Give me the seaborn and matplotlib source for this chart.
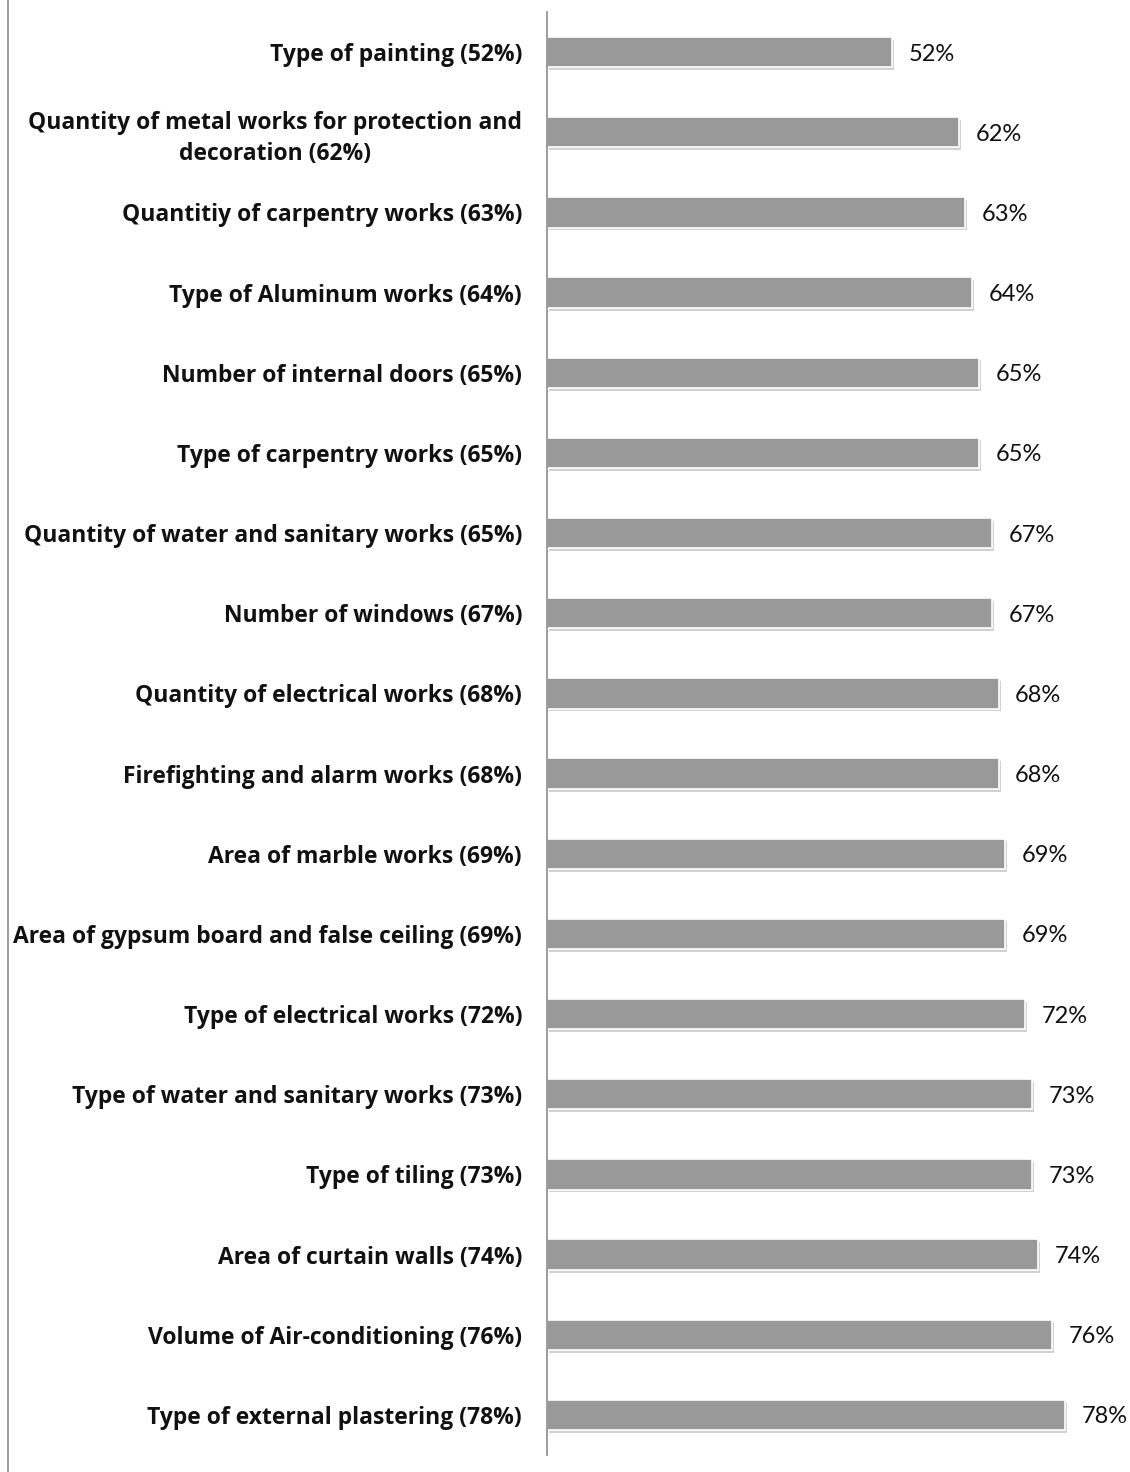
import matplotlib
matplotlib.use("Agg")
import matplotlib.pyplot as plt
import matplotlib.patheffects as pe
from matplotlib.lines import Line2D
import seaborn as sns
import pandas as pd

# Work items and their shares
items = [
    "Type of painting (52%)",
    "Quantity of metal works for protection and\ndecoration (62%)",
    "Quantitiy of carpentry works (63%)",
    "Type of Aluminum works (64%)",
    "Number of internal doors (65%)",
    "Type of carpentry works (65%)",
    "Quantity of water and sanitary works (65%)",
    "Number of windows (67%)",
    "Quantity of electrical works (68%)",
    "Firefighting and alarm works (68%)",
    "Area of marble works (69%)",
    "Area of gypsum board and false ceiling (69%)",
    "Type of electrical works (72%)",
    "Type of water and sanitary works (73%)",
    "Type of tiling (73%)",
    "Area of curtain walls (74%)",
    "Volume of Air-conditioning (76%)",
    "Type of external plastering (78%)",
]
shares = [52, 62, 63, 64, 65, 65, 67, 67, 68, 68, 69, 69, 72, 73, 73, 74, 76, 78]

df = pd.DataFrame({"item": items, "share": shares})

sns.set_theme(style="white")
plt.rcParams["font.family"] = ["Open Sans", "DejaVu Sans"]

fig = plt.figure(figsize=(11.30, 14.72), dpi=100)
ax = fig.add_axes([547 / 1130, 1 - 1455 / 1472, 1 - 547 / 1130, (1455 - 12) / 1472])

sns.barplot(data=df, x="share", y="item", orient="h", color="#999999",
            saturation=1, width=0.38, edgecolor="white", linewidth=1.2, ax=ax)

for bar in ax.patches:
    bar.set_path_effects([
        pe.SimplePatchShadow(offset=(1.5, -2.0), shadow_rgbFace="#9a9a9a", alpha=0.45),
        pe.Normal(),
    ])

for i, v in enumerate(shares):
    ax.annotate(f"{v}%", xy=(v, i), xytext=(12, 0), textcoords="offset points",
                va="center_baseline", ha="left", fontsize=17, color="#111111",
                family=["Lato", "DejaVu Sans"])

ax.set_xlim(0, 87.8)
ax.set_xlabel("")
ax.set_ylabel("")
ax.set_xticks([])
ax.tick_params(axis="y", length=0, pad=18)
for lbl in ax.get_yticklabels():
    lbl.set_fontweight("bold")
    lbl.set_fontsize(16.5)
    lbl.set_color("#111111")
    lbl.set_multialignment("center")
    lbl.set_linespacing(1.35)

for side in ["top", "right", "bottom"]:
    ax.spines[side].set_visible(False)
ax.spines["left"].set_color("#8c8c8c")
ax.spines["left"].set_linewidth(1.2)

# Frame line along the left edge of the figure
fig.add_artist(Line2D([8 / 1130, 8 / 1130], [0, 1], color="#8c8c8c", linewidth=1.2))

fig.savefig("out.png", dpi=100)
